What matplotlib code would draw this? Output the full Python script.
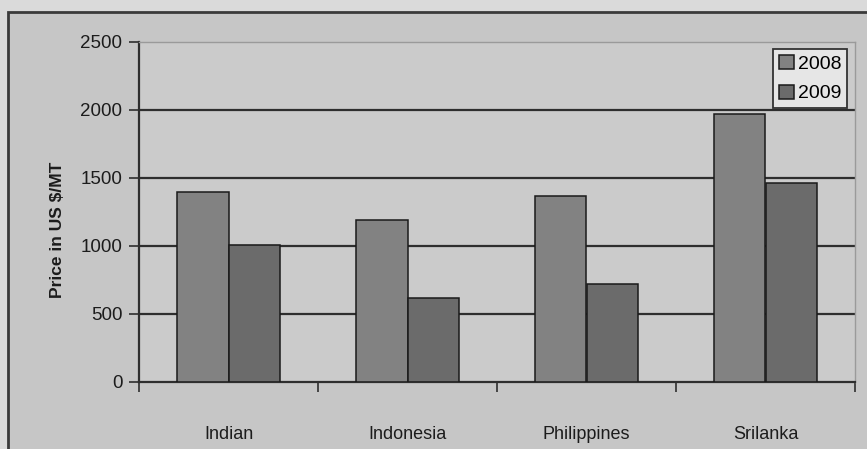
"""Grouped bar chart of prices in US $/MT for 2008 and 2009."""

import matplotlib.pyplot as plt
import numpy as np
from matplotlib.patches import Rectangle

categories = ['Indian', 'Indonesia', 'Philippines', 'Srilanka']
price_2008 = [1400, 1190, 1370, 1970]
price_2009 = [1010, 620, 720, 1460]
y_ticks = [0, 500, 1000, 1500, 2000, 2500]

PAGE_BG = '#dadada'
CHART_BG = '#c6c6c6'
PLOT_BG = '#cbcbcb'
C_2008 = '#828282'
C_2009 = '#6b6b6b'
DARK = '#2e2e2e'
TEXT = '#1c1c1c'

plt.rcParams['font.family'] = ['Liberation Sans', 'DejaVu Sans']


def main():
    fig = plt.figure(figsize=(8.67, 4.49), dpi=100, facecolor=PAGE_BG)

    # chart frame, running off the right and bottom edges
    fig.patches.append(Rectangle((8 / 867, -0.05), 1.0, 0.05 + 1 - 12 / 449,
                                 transform=fig.transFigure, facecolor=CHART_BG,
                                 edgecolor='#3a3a3a', linewidth=2, zorder=-5))

    ax = fig.add_axes([139 / 867, 1 - 382 / 449, 716 / 867, 340 / 449])
    ax.set_facecolor(PLOT_BG)

    x = np.arange(len(categories))
    w = 0.29
    ax.bar(x - w / 2, price_2008, w, color=C_2008, edgecolor='#1a1a1a',
           linewidth=1.1, label='2008', zorder=3)
    ax.bar(x + w / 2, price_2009, w, color=C_2009, edgecolor='#1a1a1a',
           linewidth=1.1, label='2009', zorder=3)

    ax.set_xlim(-0.5, len(categories) - 0.5)
    ax.set_ylim(0, 2500)
    ax.set_yticks(y_ticks)
    ax.set_yticklabels([str(v) for v in y_ticks], fontsize=13.5, color=TEXT)
    for v in y_ticks[1:-1]:
        ax.axhline(v, color=DARK, linewidth=1.6, zorder=1)

    # category labels in the middle, tick marks on the boundaries
    ax.set_xticks(x)
    ax.set_xticklabels(categories, fontsize=13, color=TEXT)
    ax.tick_params(axis='x', which='major', length=0, pad=32)
    ax.set_xticks(np.arange(len(categories) + 1) - 0.5, minor=True)
    ax.tick_params(axis='x', which='minor', length=7, width=1.2, color=DARK,
                   direction='out')
    ax.tick_params(axis='y', length=7, width=1.2, color=DARK, pad=5)

    for side in ('left', 'bottom'):
        ax.spines[side].set_color(DARK)
        ax.spines[side].set_linewidth(1.6)
    for side in ('top', 'right'):
        ax.spines[side].set_color('#9a9a9a')
        ax.spines[side].set_linewidth(1.0)

    ax.set_ylabel('Price in US $/MT', fontsize=12.5, fontweight='bold',
                  color=TEXT)
    ax.yaxis.set_label_coords(-0.104, 0.447)

    leg = ax.legend(loc='upper right', bbox_to_anchor=(0.989, 0.979),
                    fontsize=14, frameon=True, fancybox=False,
                    facecolor='#e6e6e6', framealpha=1, edgecolor='#333333',
                    handlelength=0.75, handleheight=0.75, handletextpad=0.2,
                    borderpad=0.3, labelspacing=0.6, borderaxespad=0)
    leg.get_frame().set_linewidth(1.3)

    fig.savefig('out.png', dpi=100, facecolor=PAGE_BG)
    plt.close(fig)


if __name__ == '__main__':
    main()
